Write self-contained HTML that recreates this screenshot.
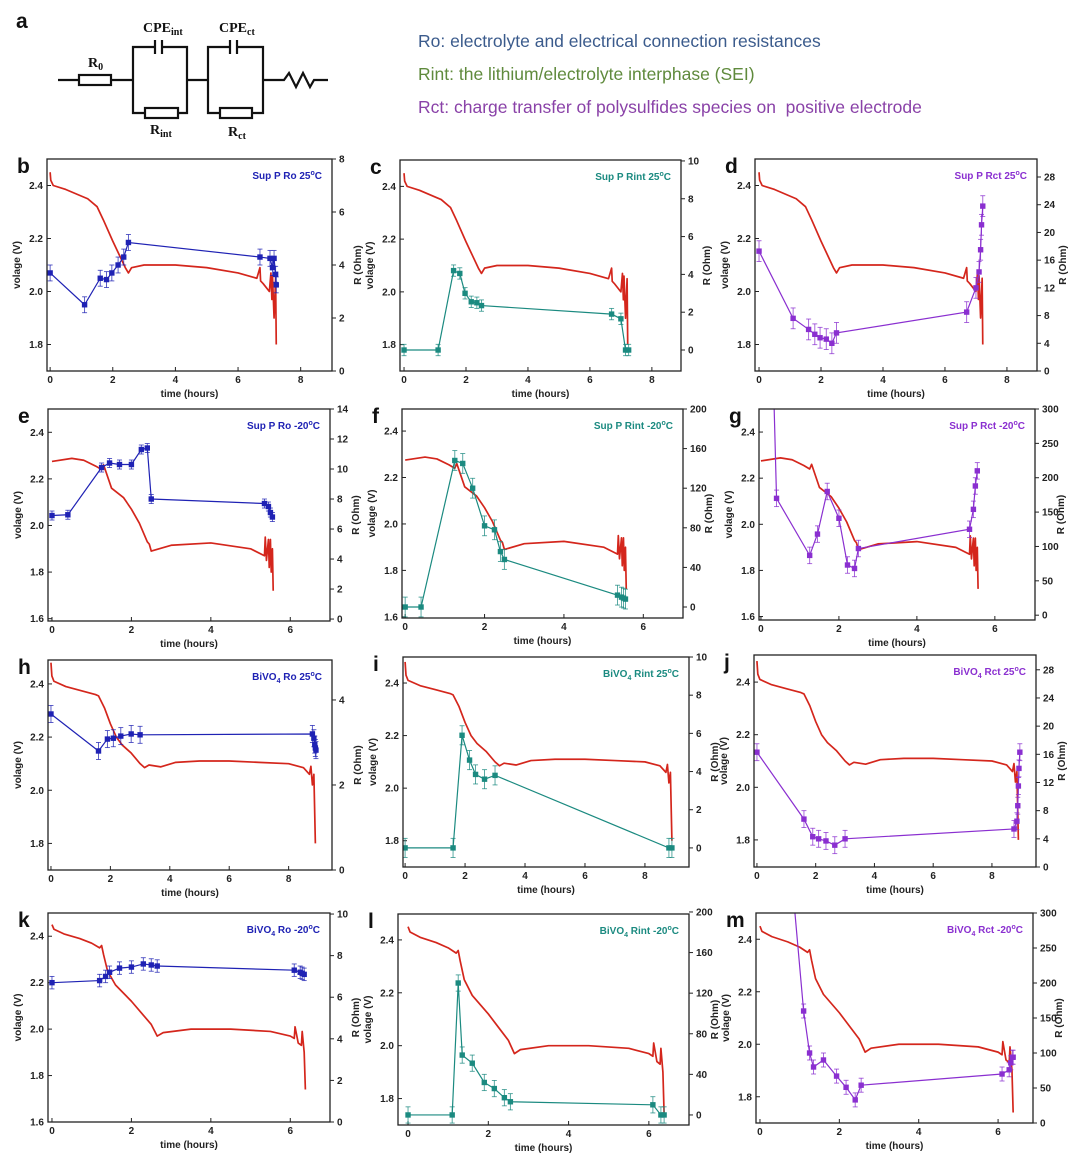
<!DOCTYPE html>
<html><head><meta charset="utf-8"><style>
body{margin:0;background:#fff}
svg{display:block}
text{font-family:"Liberation Sans",Arial,sans-serif}
.tk{font-size:10px;font-weight:bold;fill:#222}
.at{font-size:10px;font-weight:bold;fill:#222}
.pl{font-size:21px;font-weight:bold;fill:#111}
.serif{font-family:"Liberation Serif",serif;font-weight:bold;font-size:14px;fill:#111}
</style></head><body>
<svg id="fig" width="1080" height="1159" viewBox="0 0 1080 1159" xmlns="http://www.w3.org/2000/svg">
<g stroke="#111" stroke-width="2.2" fill="none">
<text x="16" y="28" class="pl" stroke="none" fill="#111">a</text>
<line x1="58" y1="80" x2="79" y2="80"/><rect x="79" y="75" width="32" height="10" fill="#fff"/>
<line x1="111" y1="80" x2="133" y2="80"/>
<polyline points="155,47 133,47 133,113 145,113"/><polyline points="162,47 187,47 187,113 178,113"/>
<line x1="155" y1="40" x2="155" y2="54"/><line x1="162" y1="40" x2="162" y2="54"/>
<rect x="145" y="108" width="33" height="10" fill="#fff"/>
<line x1="187" y1="80" x2="208" y2="80"/>
<polyline points="230,47 208,47 208,113 220,113"/><polyline points="237,47 263,47 263,113 252,113"/>
<line x1="230" y1="40" x2="230" y2="54"/><line x1="237" y1="40" x2="237" y2="54"/>
<rect x="220" y="108" width="32" height="10" fill="#fff"/>
<polyline points="263,80 284,80 289,73 296,87 303,73 310,87 314,80 328,80"/>
<g stroke="none">
<text x="88" y="67" class="serif">R<tspan font-size="10" dy="3">0</tspan></text>
<text x="143" y="32" class="serif">CPE<tspan font-size="10" dy="3">int</tspan></text>
<text x="219" y="32" class="serif">CPE<tspan font-size="10" dy="3">ct</tspan></text>
<text x="150" y="134" class="serif">R<tspan font-size="10" dy="3">int</tspan></text>
<text x="228" y="136" class="serif">R<tspan font-size="10" dy="3">ct</tspan></text>
</g></g>
<g font-size="17.5">
<text x="418" y="47" fill="#3b5b8c">Ro: electrolyte and electrical connection resistances</text>
<text x="418" y="80" fill="#5f8a3c">Rint: the lithium/electrolyte interphase (SEI)</text>
<text x="418" y="113" fill="#8a42a8" xml:space="preserve">Rct: charge transfer of polysulfides species on  positive electrode</text>
</g>
<g id="charts"></g>
</svg>
<script>
// voltage curves
const vT_sup25=[0,0.02,0.1,0.5,1.0,1.2,1.5,1.7,2.0,2.2,2.4,2.5,2.6,3,4,5,6,6.6,6.7,6.72,6.8,7.0,7.05,7.08,7.1,7.15,7.2,7.22];
const vV_sup25=[2.45,2.42,2.40,2.385,2.36,2.35,2.32,2.27,2.19,2.14,2.09,2.07,2.09,2.10,2.10,2.09,2.07,2.05,2.09,2.04,2.03,2.0,2.07,1.97,2.06,1.9,2.05,1.80];
const vT_supm20=[0,0.5,0.8,1.1,1.25,1.3,1.5,1.8,2.0,2.2,2.4,2.45,2.5,3,4,5,5.35,5.37,5.4,5.45,5.47,5.5,5.52,5.55,5.57];
const vV_supm20=[2.275,2.288,2.28,2.255,2.24,2.26,2.16,2.12,2.07,2.01,1.93,1.92,1.89,1.915,1.925,1.9,1.87,1.95,1.85,1.94,1.82,1.94,1.80,1.90,1.72];
const vT_bi25=[0,0.03,0.1,0.5,1.0,1.5,1.6,1.8,2.0,2.2,2.4,2.7,3.0,3.15,3.3,3.7,4.2,5,6,7,8,8.5,8.7,8.75,8.8,8.85,8.9];
const vV_bi25=[2.48,2.43,2.41,2.39,2.375,2.36,2.355,2.31,2.25,2.2,2.17,2.14,2.10,2.085,2.095,2.088,2.105,2.11,2.11,2.105,2.1,2.085,2.06,2.09,2.02,2.06,1.80];
const vT_bim20=[0,0.05,0.3,0.7,1.0,1.2,1.25,1.3,1.4,1.6,2.0,2.3,2.5,2.65,2.8,3.5,4.5,5.5,6.0,6.1,6.12,6.2,6.28,6.3,6.35,6.38];
const vV_bim20=[2.45,2.43,2.41,2.39,2.37,2.35,2.36,2.32,2.25,2.19,2.12,2.06,2.02,1.97,1.985,2.0,2.0,1.99,1.97,1.96,2.01,1.94,1.93,1.99,1.90,1.74];
// resistance series
const rT_b=[0,1.1,1.6,1.8,1.97,2.17,2.35,2.5,6.7,7.02,7.1,7.15,7.2,7.22];
const rV_b=[3.7,2.5,3.5,3.45,3.7,4.0,4.3,4.85,4.3,4.25,3.9,4.25,3.65,3.25];
const rT_c=[0,1.1,1.6,1.8,1.97,2.17,2.35,2.5,6.7,7.0,7.15,7.25];
const rV_c=[0,0,4.2,4.05,3.0,2.55,2.5,2.35,1.9,1.65,0,0];
const rT_d=[0,1.1,1.6,1.8,1.97,2.17,2.35,2.5,6.7,7.0,7.1,7.15,7.18,7.22];
const rV_d=[17.3,7.6,6.0,5.3,4.8,4.6,4.0,5.5,8.5,12,14.3,17.5,21.1,23.8];
const rT_e=[0,0.4,1.25,1.45,1.7,2.0,2.25,2.4,2.5,5.35,5.45,5.5,5.55];
const rV_e=[6.9,6.95,10.1,10.4,10.3,10.3,11.3,11.4,8.0,7.7,7.5,7.1,6.8];
const rT_f=[0,0.4,1.25,1.45,1.7,2.0,2.25,2.4,2.5,5.35,5.45,5.5,5.55];
const rV_f=[0,0,148,145,120,82,78,56,48,12,10,9,8];
const rT_g=[0.33,0.4,1.25,1.45,1.7,2.0,2.22,2.4,2.5,5.35,5.45,5.5,5.55];
const rV_g=[320,170,87,118,180,141,73,68,97,125,154,188,210];
const rT_h=[0,1.6,1.9,2.1,2.35,2.7,3.0,8.8,8.85,8.88,8.9,8.92];
const rV_h=[3.67,2.8,3.08,3.1,3.15,3.2,3.18,3.2,3.1,2.95,2.87,2.82];
const rT_i=[0,1.6,1.9,2.15,2.35,2.65,3.0,8.8,8.9];
const rV_i=[0,0,5.9,4.6,3.85,3.6,3.8,0,0];
const rT_j=[0,1.6,1.9,2.1,2.35,2.65,3.0,8.75,8.85,8.88,8.9,8.92,8.95];
const rV_j=[16.3,6.8,4.3,4.0,3.7,3.1,4.0,5.4,6.5,8.7,11.5,14.0,16.3];
const rT_k=[0,1.2,1.35,1.45,1.7,2.0,2.3,2.5,2.65,6.1,6.25,6.3,6.35];
const rV_k=[6.7,6.8,7.0,7.2,7.4,7.45,7.6,7.55,7.5,7.3,7.2,7.15,7.1];
const rT_l=[0,1.1,1.25,1.35,1.6,1.9,2.15,2.4,2.55,6.1,6.3,6.38];
const rV_l=[0,0,130,59,51,32,26,17,13,10,0,0];
const rT_m=[0.85,1.1,1.25,1.35,1.6,1.93,2.17,2.4,2.55,6.1,6.28,6.32,6.36,6.38];
const rV_m=[320,160,100,80,90,67,51,33,54,70,76,86,94,94];
const rErr=[0.3,0.3,1.5,0.3,10,12,0.2,0.5,1.2,0.3,8,10];

const BLUE='#1f22b4',TEAL='#1b8a80',PURP='#8a2fd0';
const P=[
 {id:'b',box:[47,159,332,371],x:[-0.1,9],v:[1.7,2.5],r:[0,8],xt:[0,2,4,6,8],vt:[1.8,2.0,2.2,2.4],rt:[0,2,4,6,8],vT:vT_sup25,vV:vV_sup25,rT:rT_b,rV:rV_b,c:BLUE,m:'Sup P',k:'Ro',tmp:'25'},
 {id:'c',box:[400,160,681,371],x:[-0.13,8.94],v:[1.7,2.5],r:[-1.11,10.05],xt:[0,2,4,6,8],vt:[1.8,2.0,2.2,2.4],rt:[0,2,4,6,8,10],vT:vT_sup25,vV:vV_sup25,rT:rT_c,rV:rV_c,c:TEAL,m:'Sup P',k:'Rint',tmp:'25'},
 {id:'d',box:[755,159,1037,371],x:[-0.13,8.97],v:[1.7,2.5],r:[0,30.6],xt:[0,2,4,6,8],vt:[1.8,2.0,2.2,2.4],rt:[0,4,8,12,16,20,24,28],vT:vT_sup25,vV:vV_sup25,rT:rT_d,rV:rV_d,c:PURP,m:'Sup P',k:'Rct',tmp:'25'},
 {id:'e',box:[48,409,330,621],x:[-0.1,7.0],v:[1.59,2.5],r:[-0.13,14],xt:[0,2,4,6],vt:[1.6,1.8,2.0,2.2,2.4],rt:[0,2,4,6,8,10,12,14],vT:vT_supm20,vV:vV_supm20,rT:rT_e,rV:rV_e,c:BLUE,m:'Sup P',k:'Ro',tmp:'-20'},
 {id:'f',box:[402,409,683,618],x:[-0.08,7.0],v:[1.595,2.495],r:[-11.1,200],xt:[0,2,4,6],vt:[1.6,1.8,2.0,2.2,2.4],rt:[0,40,80,120,160,200],vT:vT_supm20,vV:vV_supm20,rT:rT_f,rV:rV_f,c:TEAL,m:'Sup P',k:'Rint',tmp:'-20'},
 {id:'g',box:[759,409,1035,620],x:[-0.05,7.03],v:[1.585,2.5],r:[-7,300],xt:[0,2,4,6],vt:[1.6,1.8,2.0,2.2,2.4],rt:[0,50,100,150,200,250,300],vT:vT_supm20,vV:vV_supm20,rT:rT_g,rV:rV_g,c:PURP,m:'Sup P',k:'Rct ',tmp:'-20'},
 {id:'h',box:[48,660,332,870],x:[-0.1,9.46],v:[1.70,2.49],r:[0,4.94],xt:[0,2,4,6,8],vt:[1.8,2.0,2.2,2.4],rt:[0,2,4],vT:vT_bi25,vV:vV_bi25,rT:rT_h,rV:rV_h,c:BLUE,m:'BiVO',k:'Ro',tmp:'25'},
 {id:'i',box:[403,657,689,867],x:[-0.07,9.47],v:[1.70,2.499],r:[-1.0,10.0],xt:[0,2,4,6,8],vt:[1.8,2.0,2.2,2.4],rt:[0,2,4,6,8,10],vT:vT_bi25,vV:vV_bi25,rT:rT_i,rV:rV_i,c:TEAL,m:'BiVO',k:'Rint',tmp:'25'},
 {id:'j',box:[754,655,1036,867],x:[-0.1,9.5],v:[1.697,2.503],r:[0,30.1],xt:[0,2,4,6,8],vt:[1.8,2.0,2.2,2.4],rt:[0,4,8,12,16,20,24,28],vT:vT_bi25,vV:vV_bi25,rT:rT_j,rV:rV_j,c:PURP,m:'BiVO',k:'Rct',tmp:'25'},
 {id:'k',box:[48,913,330,1122],x:[-0.1,7.0],v:[1.6,2.5],r:[0,10.05],xt:[0,2,4,6],vt:[1.6,1.8,2.0,2.2,2.4],rt:[0,2,4,6,8,10],vT:vT_bim20,vV:vV_bim20,rT:rT_k,rV:rV_k,c:BLUE,m:'BiVO',k:'Ro',tmp:'-20'},
 {id:'l',box:[398,914,689,1125],x:[-0.25,7.0],v:[1.70,2.498],r:[-9.9,198],xt:[0,2,4,6],vt:[1.8,2.0,2.2,2.4],rt:[0,40,80,120,160,200],vT:vT_bim20,vV:vV_bim20,rT:rT_l,rV:rV_l,c:TEAL,m:'BiVO',k:'Rint',tmp:'-20'},
 {id:'m',box:[756,913,1033,1123],x:[-0.1,6.88],v:[1.70,2.50],r:[0,300],xt:[0,2,4,6],vt:[1.8,2.0,2.2,2.4],rt:[0,50,100,150,200,250,300],vT:vT_bim20,vV:vV_bim20,rT:rT_m,rV:rV_m,c:PURP,m:'BiVO',k:'Rct',tmp:'-20'}
];
const NS='http://www.w3.org/2000/svg';
function mk(tag,attrs,parent){const e=document.createElementNS(NS,tag);for(const k in attrs)e.setAttribute(k,attrs[k]);parent.appendChild(e);return e;}
const root=document.getElementById('charts');
P.forEach((p,pi)=>{
 const [L,T,R,B]=p.box;
 const sx=t=>L+(t-p.x[0])/(p.x[1]-p.x[0])*(R-L);
 const sv=v=>B-(v-p.v[0])/(p.v[1]-p.v[0])*(B-T);
 const sr=r=>B-(r-p.r[0])/(p.r[1]-p.r[0])*(B-T);
 const g=mk('g',{},root);
 
 
 const cp=mk('clipPath',{id:'clip'+p.id},g);mk('rect',{x:L,y:T,width:R-L,height:B-T},cp);
 const lt=mk('text',{x:L-30,y:T+14,class:'pl'},g);lt.textContent=p.id;
 
 
 p.xt.forEach(t=>{const x=sx(t);mk('line',{x1:x,y1:B,x2:x,y2:B-4,stroke:'#222','stroke-width':1},g);
  const tx=mk('text',{x:x,y:B+12,class:'tk','text-anchor':'middle'},g);tx.textContent=t;
  
  });
 p.vt.forEach(v=>{const y=sv(v);mk('line',{x1:L,y1:y,x2:L+4,y2:y,stroke:'#222','stroke-width':1},g);
  const tx=mk('text',{x:L-4,y:y+3.5,class:'tk','text-anchor':'end'},g);tx.textContent=v.toFixed(1);
  
  });
 p.rt.forEach(r=>{const y=sr(r);mk('line',{x1:R,y1:y,x2:R+4,y2:y,stroke:'#222','stroke-width':1},g);
  const tx=mk('text',{x:R+7,y:y+3.5,class:'tk'},g);tx.textContent=r;
  
  });
 const xl=mk('text',{x:(L+R)/2,y:B+26,class:'at','text-anchor':'middle'},g);xl.textContent='time (hours)';
 
 
 const yl=mk('text',{x:0,y:0,class:'at','text-anchor':'middle',transform:`translate(${L-27},${(T+B)/2}) rotate(-90)`},g);yl.textContent='volage (V)';
 
 
 const rl=mk('text',{x:0,y:0,class:'at','text-anchor':'middle',transform:`translate(${R+29},${(T+B)/2}) rotate(-90)`},g);rl.textContent='R (Ohm)';
 
 
 const tt=mk('text',{x:R-10,y:T+20,'text-anchor':'end','font-size':'10','font-weight':'bold',fill:p.c},g);
 
 
 tt.setAttribute('xml:space','preserve');
 if(p.m==='BiVO'){tt.innerHTML=`BiVO<tspan font-size="7" dy="3">4</tspan><tspan dy="-3">  ${p.k} ${p.tmp}</tspan><tspan font-size="7" dy="-4">o</tspan><tspan dy="4">C</tspan>`;}
 else{tt.innerHTML=`Sup P  ${p.k} ${p.tmp}<tspan font-size="7" dy="-4">o</tspan><tspan dy="4">C</tspan>`;}
 const cg=mk('g',{'clip-path':`url(#clip${p.id})`},g);
 const vl=mk('polyline',{points:p.vT.map((t,i)=>sx(t)+','+sv(p.vV[i])).join(' '),fill:'none',stroke:'#d4261c','stroke-width':1.7,'stroke-linejoin':'round'},cg);
 
 
 const rl2=mk('polyline',{points:p.rT.map((t,i)=>sx(t)+','+sr(p.rV[i])).join(' '),fill:'none',stroke:p.c,'stroke-width':1.2},cg);
 
 
 p.rT.forEach((t,i)=>{const x=sx(t),y=sr(p.rV[i]);const e=(sr(0)-sr(rErr[pi]));
  mk('line',{x1:x,y1:y-e,x2:x,y2:y+e,stroke:p.c,'stroke-width':0.9,opacity:0.8},cg);
  mk('line',{x1:x-2.5,y1:y-e,x2:x+2.5,y2:y-e,stroke:p.c,'stroke-width':0.9,opacity:0.8},cg);
  mk('line',{x1:x-2.5,y1:y+e,x2:x+2.5,y2:y+e,stroke:p.c,'stroke-width':0.9,opacity:0.8},cg);
  const s=mk('rect',{x:x-2.7,y:y-2.7,width:5.4,height:5.4,fill:p.c},cg);
  
  });
 const fr=mk('rect',{x:L,y:T,width:R-L,height:B-T,fill:'none',stroke:'#222','stroke-width':1.3},g);
 
 
});
</script>
</body></html>
